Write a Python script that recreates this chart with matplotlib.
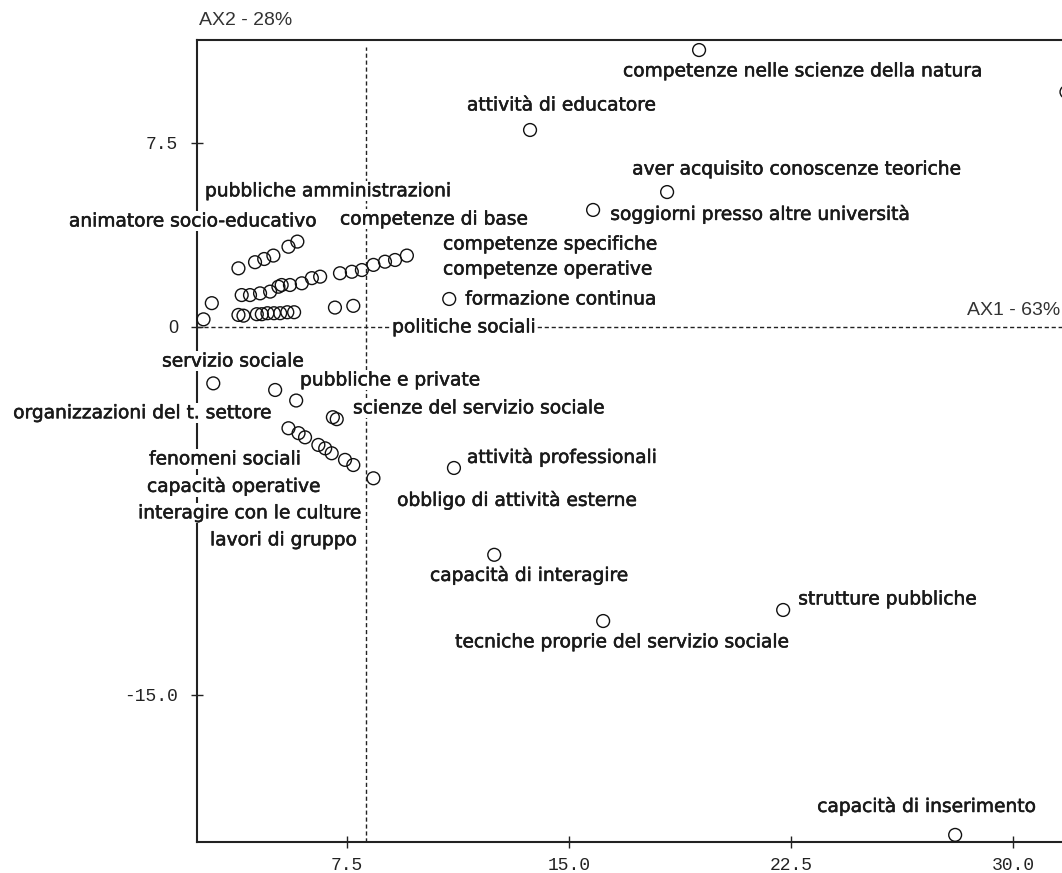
import matplotlib
matplotlib.use("Agg")
import matplotlib.pyplot as plt
import matplotlib.patheffects as pe

# factor coordinates of the modalities (axis 1, axis 2)
x_upper = [3.83, 4.39, 4.70, 5.01, 5.52, 5.82]
y_upper = [2.39, 2.64, 2.77, 2.91, 3.27, 3.48]

x_middle = [3.94, 4.22, 4.56, 4.90, 5.18, 5.29, 5.57, 5.97, 6.31, 6.59,
            7.26, 7.66, 8.00, 8.39, 8.78, 9.12, 9.52]
y_middle = [1.30, 1.30, 1.37, 1.44, 1.64, 1.71, 1.71, 1.78, 1.99, 2.05,
            2.19, 2.25, 2.32, 2.53, 2.66, 2.73, 2.91]

x_lower = [2.65, 2.93, 3.83, 4.00, 4.45, 4.62, 4.81, 5.03, 5.24, 5.48, 5.71, 7.09, 7.71]
y_lower = [0.31, 0.97, 0.49, 0.46, 0.52, 0.52, 0.56, 0.56, 0.56, 0.60, 0.60, 0.79, 0.86]

x_neg = [2.98, 5.07, 5.78, 7.02, 7.15, 5.52, 5.86, 6.08, 6.53, 6.76, 6.98, 7.43, 7.71, 8.39]
y_neg = [-2.30, -2.57, -3.00, -3.68, -3.76, -4.13, -4.33, -4.50, -4.81, -4.95,
         -5.15, -5.42, -5.63, -6.17]

x_far = [19.39, 13.68, 18.31, 15.81, 10.95, 11.11, 12.47, 16.15, 22.23, 28.04, 31.8]
y_far = [11.29, 8.03, 5.50, 4.77, 1.14, -5.75, -9.29, -11.99, -11.54, -20.71, 9.58]

# labels, their anchor in the plane and which side the anchor is on
labels = ["competenze nelle scienze della natura", "attività di educatore",
          "aver acquisito conoscenze teoriche", "soggiorni presso altre università",
          "pubbliche amministrazioni", "animatore socio-educativo", "competenze di base",
          "competenze specifiche", "competenze operative", "formazione continua",
          "politiche sociali", "servizio sociale", "pubbliche e private",
          "organizzazioni del t. settore", "scienze del servizio sociale",
          "fenomeni sociali", "attività professionali", "capacità operative",
          "obbligo di attività esterne", "interagire con le culture", "lavori di gruppo",
          "capacità di interagire", "strutture pubbliche",
          "tecniche proprie del servizio sociale", "capacità di inserimento"]
label_x = [16.82, 11.55, 17.13, 16.39, 2.70, 6.49, 7.26, 10.74, 10.74, 11.49,
           9.02, 1.25, 5.91, -3.78, 7.70, 0.81, 11.55, 0.74, 17.30, 0.44, 2.87,
           10.30, 22.74, 11.15, 23.38]
label_y = [10.44, 9.05, 6.44, 4.61, 5.55, 4.32, 4.40, 3.38, 2.36, 1.14,
           0.0, -1.39, -2.16, -3.50, -3.30, -5.38, -5.30, -6.48, -7.05, -7.58, -8.68,
           -10.11, -11.09, -12.84, -19.53]
label_ha = ["left"] * len(labels)
label_ha[5] = "right"
label_ha[18] = "right"

xticks = [7.5, 15.0, 22.5, 30.0]
yticks = [-15.0, 0.0, 7.5]
x_mean = 8.14
inertia = {"AX1": 63, "AX2": 28}

xlim = (2.43, 32.6)
ylim = (-21.0, 11.70)

fig = plt.figure(figsize=(10.62, 8.73), dpi=100)
ax = fig.add_axes([0.1855, 0.0355, 0.841, 0.9187])
ax.set_xlim(*xlim)
ax.set_ylim(*ylim)

for xs, ys in [(x_upper, y_upper), (x_middle, y_middle), (x_lower, y_lower),
               (x_neg, y_neg), (x_far, y_far)]:
    ax.scatter(xs, ys, s=85, facecolors="none", edgecolors="#111111",
               linewidths=1.0, zorder=4, clip_on=False)

ax.axhline(0, color="#222222", lw=1.0, ls=(0, (3, 2)), zorder=1)
ax.plot([x_mean, x_mean], [ylim[0], 11.4], color="#222222", lw=1.0,
        ls=(0, (3, 2)), zorder=1)

# slightly heavier strokes on the point labels
heavy = [pe.withStroke(linewidth=0.4, foreground="#1a1a1a")]
for txt, lx, ly, ha in zip(labels, label_x, label_y, label_ha):
    ax.text(lx, ly, txt, ha=ha, va="center", fontsize=13.4,
            family="DejaVu Sans", color="#1a1a1a", zorder=5, clip_on=False,
            path_effects=heavy,
            bbox=dict(facecolor="white", edgecolor="none", pad=0.5))

ax.text(28.45, 0.69, "AX1 - %d%%" % inertia["AX1"], ha="left", va="center",
        fontsize=14, family="Liberation Sans", color="#333333", zorder=5)
fig.text(0.1875, 0.977, "AX2 - %d%%" % inertia["AX2"], ha="left", va="center",
         fontsize=14, family="Liberation Sans", color="#333333")

ax.spines["right"].set_visible(False)
for s in ["left", "top", "bottom"]:
    ax.spines[s].set_linewidth(1.5)
    ax.spines[s].set_color("#222222")

ax.set_xticks(xticks)
ax.set_xticklabels(["%.1f" % v for v in xticks])
ax.set_yticks(yticks)
ax.set_yticklabels(["0" if v == 0 else "%.1f" % v for v in yticks])
ax.tick_params(direction="inout", length=9, width=1.0, color="#222222",
               labelsize=13, labelcolor="#222222")
ax.tick_params(axis="x", pad=6)
ax.tick_params(axis="y", pad=9)
for lab in ax.get_xticklabels() + ax.get_yticklabels():
    lab.set_family("Liberation Mono")
    if lab.get_text() == "0":
        lab.set_family("Liberation Sans")

fig.savefig("out.png", dpi=100)
